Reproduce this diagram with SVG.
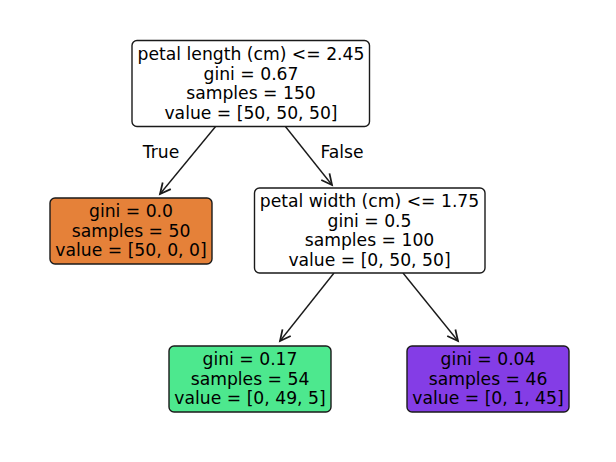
<svg xmlns="http://www.w3.org/2000/svg" width="616" height="462" viewBox="0 0 616 462">
<style>
text{font-family:"DejaVu Sans",sans-serif;font-size:17.2px;fill:#000;text-anchor:middle}
.box{stroke:#1a1a1a;stroke-width:1.4}
.edge{stroke:#1a1a1a;stroke-width:1.4;fill:none}
</style>
<defs>
<marker id="ah" markerUnits="userSpaceOnUse" markerWidth="20" markerHeight="20" refX="0" refY="0" viewBox="-12 -8 14 16" orient="auto" overflow="visible">
<path d="M-8.5,-4.2 L0,0 L-8.5,4.2" fill="none" stroke="#1a1a1a" stroke-width="1.4"/>
</marker>
</defs>
<rect width="616" height="462" fill="#fff"/>
<g id="edges">
<line class="edge" x1="216" y1="126" x2="160" y2="194" marker-end="url(#ah)"/>
<line class="edge" x1="285" y1="126" x2="332" y2="185" marker-end="url(#ah)"/>
<line class="edge" x1="334" y1="273" x2="280" y2="341" marker-end="url(#ah)"/>
<line class="edge" x1="403" y1="273" x2="458" y2="341" marker-end="url(#ah)"/>
<text x="161" y="157.5">True</text>
<text x="342" y="157.5">False</text>
</g>
<g id="node0">
<rect class="box" x="132" y="40.5" width="237.5" height="86" rx="5" fill="#fff"/>
<text x="251" y="60.4">petal length (cm) &lt;= 2.45</text>
<text x="251" y="79.8">gini = 0.67</text>
<text x="251" y="99.2">samples = 150</text>
<text x="251" y="118.6">value = [50, 50, 50]</text>
</g>
<g id="node1">
<rect class="box" x="50" y="198" width="162" height="66" rx="5" fill="#e58139"/>
<text x="131" y="217.3">gini = 0.0</text>
<text x="131" y="236.7">samples = 50</text>
<text x="131" y="256.1">value = [50, 0, 0]</text>
</g>
<g id="node2">
<rect class="box" x="254.5" y="188" width="230.5" height="85" rx="5" fill="#fff"/>
<text x="369.5" y="207.4">petal width (cm) &lt;= 1.75</text>
<text x="369.5" y="226.8">gini = 0.5</text>
<text x="369.5" y="246.2">samples = 100</text>
<text x="369.5" y="265.6">value = [0, 50, 50]</text>
</g>
<g id="node3">
<rect class="box" x="169" y="346" width="162" height="66" rx="5" fill="#4de88e"/>
<text x="250" y="365.3">gini = 0.17</text>
<text x="250" y="384.7">samples = 54</text>
<text x="250" y="404.1">value = [0, 49, 5]</text>
</g>
<g id="node4">
<rect class="box" x="407" y="346" width="162" height="66" rx="5" fill="#843de6"/>
<text x="488" y="365.3">gini = 0.04</text>
<text x="488" y="384.7">samples = 46</text>
<text x="488" y="404.1">value = [0, 1, 45]</text>
</g>
</svg>
